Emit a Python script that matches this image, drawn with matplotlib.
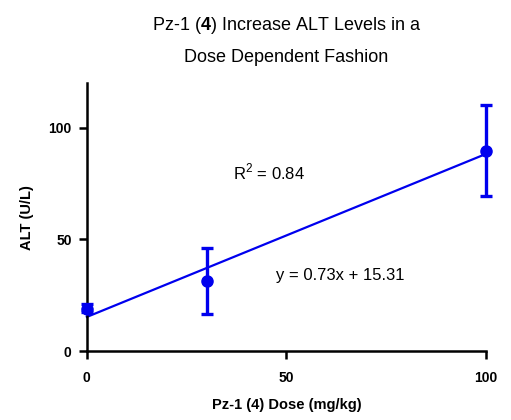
import numpy as np
import matplotlib
matplotlib.use("Agg")
import matplotlib.pyplot as plt

plt.rcParams["font.family"] = "Liberation Sans"
plt.rcParams["mathtext.fontset"] = "custom"
plt.rcParams["mathtext.rm"] = "Liberation Sans"
plt.rcParams["mathtext.bf"] = "Liberation Sans:bold"

# data
dose = [0, 30, 100]
alt_mean = [19.0, 31.3, 89.6]
alt_lo = [17.5, 16.8, 69.5]
alt_hi = [21.0, 46.0, 110.0]
slope = 0.73
intercept = 15.31
r2 = 0.84

err = [np.array(alt_mean) - np.array(alt_lo), np.array(alt_hi) - np.array(alt_mean)]

fig = plt.figure(figsize=(5.11, 4.20), dpi=100)
ax = fig.add_axes([0.170, 0.164, 0.781, 0.638])

xfit = np.array([0, 100])
ax.plot(xfit, slope * xfit + intercept, color="#0000ee", lw=1.6, clip_on=False, zorder=2)
ax.errorbar(dose, alt_mean, yerr=err, fmt="o", color="#0000ee", ms=8,
            elinewidth=2.4, capsize=4.5, capthick=2.4, clip_on=False, zorder=3)

ax.set_xlim(0, 100)
ax.set_ylim(0, 120)
ax.set_xticks([0, 50, 100])
ax.set_yticks([0, 50, 100])
for s in ["top", "right"]:
    ax.spines[s].set_visible(False)
for s in ["left", "bottom"]:
    ax.spines[s].set_linewidth(1.8)
ax.tick_params(width=1.8, length=6, labelsize=10, pad=5)
ax.tick_params(axis="x", pad=8)
for lab in ax.get_xticklabels() + ax.get_yticklabels():
    lab.set_fontweight("bold")

ax.set_xlabel("Pz-1 (4) Dose (mg/kg)", fontsize=10.5, fontweight="bold", labelpad=10)
ax.set_ylabel("ALT (U/L)", fontsize=10.5, fontweight="bold", labelpad=10)
ax.set_title("Pz-1 ($\\mathbf{4}$) Increase ALT Levels in a\nDose Dependent Fashion",
             fontsize=13, linespacing=2.0, pad=15)

ax.text(36.5, 80, "R$^{2}$ = %.2f" % r2, fontsize=12, va="center")
ax.text(47.5, 34, "y = %.2fx + %.2f" % (slope, intercept), fontsize=12, va="center")

fig.savefig("out.png", dpi=100)
